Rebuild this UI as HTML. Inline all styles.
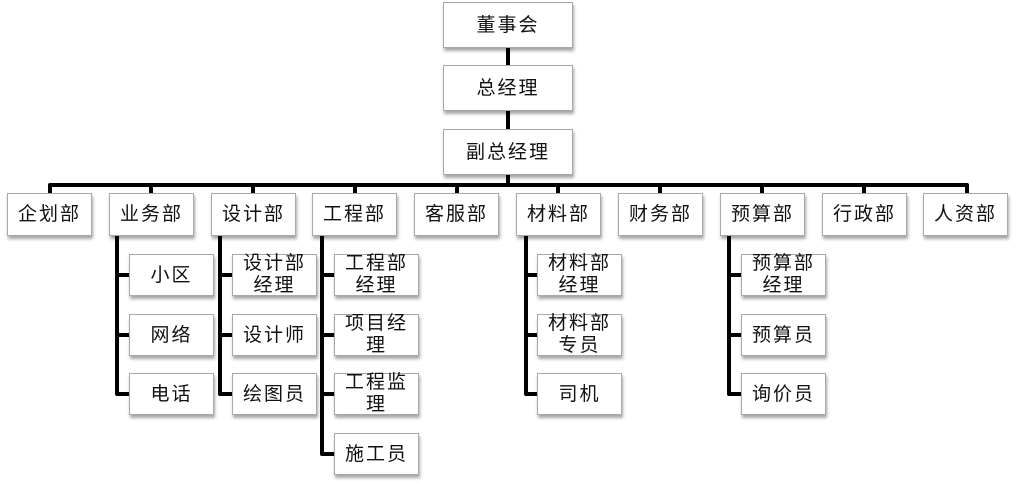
<!DOCTYPE html>
<html>
<head>
<meta charset="utf-8">
<style>
  html, body { margin:0; padding:0; background:#ffffff; }
  body { width:1017px; height:482px; position:relative; overflow:hidden;
         font-family: "Liberation Sans", "Noto Sans CJK SC", sans-serif; }
  .b { position:absolute; box-sizing:border-box; background:#fff;
       border:1px solid #a8a8a8;
       box-shadow: 1px 3px 3px rgba(0,0,0,0.35);
       display:flex; align-items:center; justify-content:center; text-align:center;
       font-size:19px; letter-spacing:2px; color:#111; line-height:21px; white-space:nowrap; }
  .d { width:85px; height:43px; top:193px; }
  .c { width:85px; height:42px; }
  .c2 { line-height:22px; }
  .t { width:130px; height:46px; left:443px; }
  svg { position:absolute; left:0; top:0; }
</style>
</head>
<body>
<svg width="1017" height="482" viewBox="0 0 1017 482">
  <g stroke="#000" stroke-width="4" fill="none" stroke-linejoin="round" stroke-linecap="butt">
    <line x1="508" y1="46" x2="508" y2="66"/>
    <line x1="508" y1="111" x2="508" y2="130"/>
    <line x1="508" y1="175" x2="508" y2="185"/>
    <path d="M50 194 L50 185 L967 185 L967 194"/>
    <line x1="151" y1="185" x2="151" y2="194"/>
    <line x1="253" y1="185" x2="253" y2="194"/>
    <line x1="355" y1="185" x2="355" y2="194"/>
    <line x1="457" y1="185" x2="457" y2="194"/>
    <line x1="558" y1="185" x2="558" y2="194"/>
    <line x1="660" y1="185" x2="660" y2="194"/>
    <line x1="762" y1="185" x2="762" y2="194"/>
    <line x1="864" y1="185" x2="864" y2="194"/>
    <!-- 业务部 -->
    <path d="M117 235 L117 394 L130 394"/>
    <line x1="117" y1="275" x2="130" y2="275"/>
    <line x1="117" y1="335" x2="130" y2="335"/>
    <!-- 设计部 -->
    <path d="M220 235 L220 394 L233 394"/>
    <line x1="220" y1="275" x2="233" y2="275"/>
    <line x1="220" y1="335" x2="233" y2="335"/>
    <!-- 工程部 -->
    <path d="M322 235 L322 454 L335 454"/>
    <line x1="322" y1="275" x2="335" y2="275"/>
    <line x1="322" y1="335" x2="335" y2="335"/>
    <line x1="322" y1="394" x2="335" y2="394"/>
    <!-- 材料部 -->
    <path d="M526 235 L526 394 L538 394"/>
    <line x1="526" y1="275" x2="538" y2="275"/>
    <line x1="526" y1="335" x2="538" y2="335"/>
    <!-- 预算部 -->
    <path d="M729 235 L729 394 L742 394"/>
    <line x1="729" y1="275" x2="742" y2="275"/>
    <line x1="729" y1="335" x2="742" y2="335"/>
  </g>
</svg>

<div class="b t" style="top:2px;">董事会</div>
<div class="b t" style="top:65px;">总经理</div>
<div class="b t" style="top:129px;">副总经理</div>

<div class="b d" style="left:7px;">企划部</div>
<div class="b d" style="left:109px;">业务部</div>
<div class="b d" style="left:211px;">设计部</div>
<div class="b d" style="left:312px;">工程部</div>
<div class="b d" style="left:414px;">客服部</div>
<div class="b d" style="left:516px;">材料部</div>
<div class="b d" style="left:618px;">财务部</div>
<div class="b d" style="left:720px;">预算部</div>
<div class="b d" style="left:822px;">行政部</div>
<div class="b d" style="left:923px;">人资部</div>

<div class="b c" style="left:129px; top:254px;">小区</div>
<div class="b c" style="left:129px; top:314px;">网络</div>
<div class="b c" style="left:129px; top:373px;">电话</div>

<div class="b c c2" style="left:232px; top:254px;">设计部<br>经理</div>
<div class="b c" style="left:232px; top:314px;">设计师</div>
<div class="b c" style="left:232px; top:373px;">绘图员</div>

<div class="b c c2" style="left:334px; top:254px;">工程部<br>经理</div>
<div class="b c c2" style="left:334px; top:314px;">项目经<br>理</div>
<div class="b c c2" style="left:334px; top:373px;">工程监<br>理</div>
<div class="b c" style="left:334px; top:433px;">施工员</div>

<div class="b c c2" style="left:537px; top:254px;">材料部<br>经理</div>
<div class="b c c2" style="left:537px; top:314px;">材料部<br>专员</div>
<div class="b c" style="left:537px; top:373px;">司机</div>

<div class="b c c2" style="left:741px; top:254px;">预算部<br>经理</div>
<div class="b c" style="left:741px; top:314px;">预算员</div>
<div class="b c" style="left:741px; top:373px;">询价员</div>
</body>
</html>
